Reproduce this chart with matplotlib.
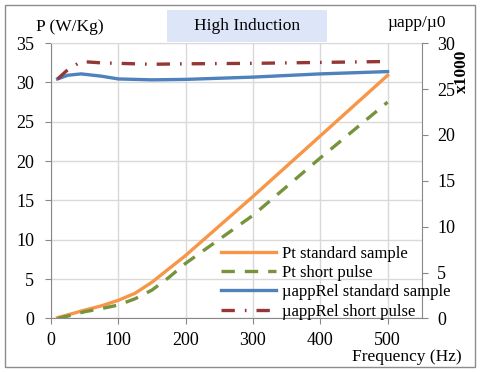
import matplotlib
matplotlib.use("Agg")
import matplotlib.pyplot as plt
from matplotlib.patches import Rectangle

# values
freq_pt = [10, 25, 50, 75, 100, 125, 150, 175, 200, 300, 400, 500]
pt_standard = [0.1, 0.45, 1.05, 1.6, 2.3, 3.2, 4.6, 6.3, 8.0, 15.5, 23.2, 30.9]
pt_short = [0.0, 0.3, 0.85, 1.25, 1.7, 2.5, 3.6, 5.2, 7.0, 13.1, 20.4, 27.5]

freq_mu = [10, 25, 45, 75, 100, 150, 200, 300, 400, 500]
mu_standard = [26.1, 26.5, 26.65, 26.4, 26.1, 26.0, 26.05, 26.3, 26.65, 26.9]
mu_short = [26.1, 27.1, 28.0, 27.85, 27.8, 27.7, 27.75, 27.8, 27.9, 28.0]

plt.rcParams['font.family'] = ['Liberation Serif', 'DejaVu Serif']

fig = plt.figure(figsize=(4.8, 3.72), dpi=100)
ax = fig.add_axes([0.106, 0.144, 0.773, 0.740])
ax2 = ax.twinx()

ln1, = ax.plot(freq_pt, pt_standard, color='#F79646', lw=2.4, label='Pt standard sample')
ln2, = ax.plot(freq_pt, pt_short, color='#77933C', lw=2.4, dashes=(4, 3),
               label='Pt short pulse')
ln3, = ax2.plot(freq_mu, mu_standard, color='#4F81BD', lw=2.4,
                label='µappRel standard sample')
ln4, = ax2.plot(freq_mu, mu_short, color='#953735', lw=2.4,
                dashes=(4, 3, 0.5, 3), label='µappRel short pulse')

ax.set_xlim(0, 551)
ax.set_ylim(0, 35)
ax2.set_ylim(0, 30)
ax.set_xticks([0, 100, 200, 300, 400, 500])
ax.set_yticks(range(0, 36, 5))
ax2.set_yticks(range(0, 31, 5))
ax.grid(True, color='#d9d9d9', lw=1)
ax.set_axisbelow(True)

for a in (ax, ax2):
    for s in a.spines.values():
        s.set_visible(False)
    a.tick_params(labelsize=13, colors='#888888', labelcolor='black', length=4)
ax.tick_params(axis='y', pad=8)
ax.tick_params(axis='x', pad=6)
ax2.tick_params(axis='y', pad=7)
ax.spines['left'].set_visible(True)
ax.spines['left'].set_color('#888888')
ax.spines['bottom'].set_visible(True)
ax.spines['bottom'].set_color('#888888')
ax2.spines['right'].set_visible(True)
ax2.spines['right'].set_color('#888888')
ax.spines['top'].set_visible(True)
ax.spines['top'].set_color('#d9d9d9')

fig.text(0.075, 0.927, 'P (W/Kg)', fontsize=12.5, va='center')
fig.text(0.808, 0.938, 'µapp/µ0', fontsize=12.5, va='center')
fig.text(0.962, 0.809, 'x1000', fontsize=12.5, fontweight='bold',
         rotation=90, ha='center', va='center')
fig.text(0.733, 0.040, 'Frequency (Hz)', fontsize=12.5, va='center')

fig.patches.append(Rectangle((0.348, 0.887), 0.333, 0.086, transform=fig.transFigure,
                             facecolor='#dce6f8', edgecolor='none'))
fig.text(0.514, 0.930, 'High Induction', fontsize=12.5, ha='center', va='center')

fig.legend(handles=[ln1, ln2, ln3, ln4], loc='upper left',
           bbox_to_anchor=(0.46, 0.34), frameon=False, fontsize=12,
           handlelength=3.3, handletextpad=0.4, labelspacing=0.2,
           borderpad=0, borderaxespad=0)

fig.patches.append(Rectangle((0.01, 0.013), 0.98, 0.973, transform=fig.transFigure,
                             facecolor='none', edgecolor='#8c8c8c', lw=1))

fig.savefig('out.png', dpi=100)
